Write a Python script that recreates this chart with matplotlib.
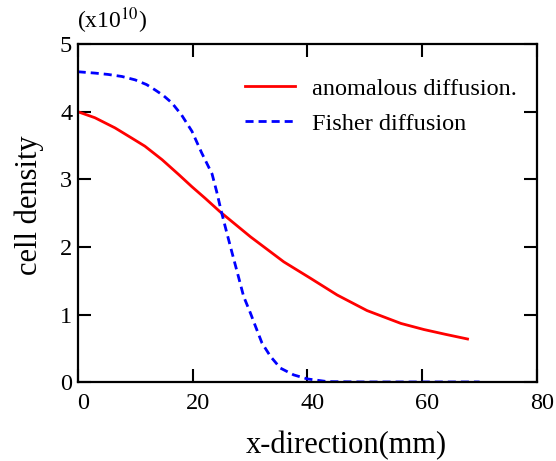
import matplotlib
matplotlib.use("Agg")
import matplotlib.pyplot as plt
from matplotlib.transforms import ScaledTranslation

plt.rcParams['font.family'] = ['Liberation Serif', 'DejaVu Serif']
plt.rcParams['mathtext.fontset'] = 'stix'

# Cell density profiles along x (units of 1e10)
x_anomalous = [0, 3.0, 6.5, 9.4, 11.7, 14.7, 17.6, 19.9, 22.2, 24.8, 30.1, 35.9, 40.5,
               45.2, 50.4, 56.3, 60.3, 64.0, 67.9]
y_anomalous = [4.0, 3.91, 3.76, 3.61, 3.49, 3.29, 3.07, 2.89, 2.72, 2.52, 2.15, 1.78, 1.54,
               1.29, 1.06, 0.87, 0.78, 0.71, 0.64]

x_fisher = [0, 3.0, 5.3, 7.7, 10.0, 12.0, 13.5, 14.9, 16.4, 18.1, 19.9, 21.6, 23.4, 24.2,
            25.0, 26.0, 26.9, 28.0, 28.9, 30.1, 31.0, 32.1, 33.6, 35.3, 37.6, 40.0, 43.5,
            50, 60, 70]
y_fisher = [4.59, 4.57, 4.55, 4.52, 4.47, 4.40, 4.32, 4.24, 4.13, 3.95, 3.71, 3.39, 3.08, 2.82,
            2.53, 2.20, 1.91, 1.56, 1.27, 1.02, 0.82, 0.58, 0.38, 0.21, 0.11, 0.05, 0.01,
            0.005, 0.005, 0.005]

series_labels = ["anomalous diffusion.", "Fisher diffusion"]
x_ticks = [0, 20, 40, 60, 80]
y_ticks = [0, 1, 2, 3, 4, 5]

fig = plt.figure(figsize=(5.56, 4.61), dpi=100)
ax = fig.add_axes([77.7 / 556, 1 - 382.3 / 461, (537 - 77.7) / 556, (382.3 - 44) / 461])

ax.plot(x_anomalous, y_anomalous, color='#ff0000', lw=2.0, label=series_labels[0])
ax.plot(x_fisher, y_fisher, color='#0000ff', lw=2.0, linestyle=(0, (2.9, 1.8)),
        label=series_labels[1])

ax.set_xlim(0, 80)
ax.set_ylim(0, 5)
ax.set_xticks(x_ticks)
ax.set_yticks(y_ticks)

for s in ax.spines.values():
    s.set_linewidth(1.6)
ax.tick_params(direction='in', length=9.5, width=1.5, labelsize=17.5,
               top=True, right=True, colors='black')
ax.tick_params(axis='x', pad=8)
ax.tick_params(axis='y', pad=4)

shift = ScaledTranslation(5 / 100, 0, fig.dpi_scale_trans)
for lab in ax.get_xticklabels():
    lab.set_transform(lab.get_transform() + shift)

ax.set_xlabel("x-direction(mm)", fontsize=22)
ax.xaxis.label.set_va('center')
ax.xaxis.set_label_coords(0.585, -0.188)

ax.set_ylabel("cell density", fontsize=22)
ax.yaxis.label.set_va('center')
ax.yaxis.set_label_coords(-0.106, 0.524)

fig.text(77 / 556, 1 - 21 / 461, r"(x10$^{10}$)", fontsize=17, ha='left', va='center')

ax.legend(loc='upper left', bbox_to_anchor=(0.364, 0.90), frameon=False, fontsize=17.5,
          handlelength=2.06, handletextpad=0.7, labelspacing=0.53,
          borderpad=0, borderaxespad=0)

fig.savefig("out.png", dpi=100)
